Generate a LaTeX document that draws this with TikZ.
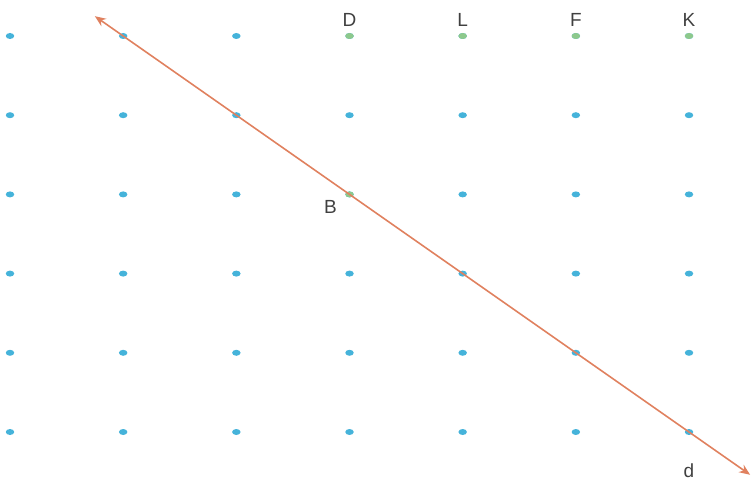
\documentclass[tikz,border=0pt]{standalone}
\usepackage{fontspec}
\setmainfont{Liberation Sans}
\usetikzlibrary{calc, positioning, shapes.geometric, arrows.meta}

\definecolor{dotblue}{HTML}{45B3DA}
\definecolor{dotgreen}{HTML}{8DC98C}
\definecolor{linered}{HTML}{E0815F}

\tikzset{
	dot/.style = {ellipse, fill = dotblue, inner sep = 0pt, minimum width = 8.5pt, minimum height = 6pt},
	gdot/.style = {dot, fill = dotgreen},
	lab/.style = {font = \fontsize{19}{19}\selectfont, text = black!75}
}

\begin{document}
\begin{tikzpicture}[x = 1pt, y = -1pt]
			\useasboundingbox (0,0) rectangle (753,492);
			
			\foreach \i in {1,...,7} {
				\foreach \j in {1,...,6} {
					\node [dot] (p-\i-\j) at ({10 + 113.17*(\i-1)}, {36 + 79.2*(\j-1)}) {};
				}
			}
			
			% green points
			\foreach \i in {4,5,6,7} {
				\node [gdot] at (p-\i-1) {};
			}
			\node [gdot] at (p-4-3) {};
			
			\node [lab, above = 3pt of p-4-1] (D) {D};
			\node [lab, above = 3pt of p-5-1] (L) {L};
			\node [lab, above = 3pt of p-6-1] (F) {F};
			\node [lab, above = 3pt of p-7-1] (K) {K};
			\node [lab, below left = 0pt and 6pt of p-4-3] (B) {B};
			\node [lab, below = 25pt of p-7-6] (d) {d};
			
			\coordinate (s) at ($(p-2-1)!-0.05!(p-7-6)$);
			\coordinate (e) at ($(p-2-1)!1.108!(p-7-6)$);
			\draw [linered, line width = 1.6pt, {Stealth[length=11pt, width=9pt]}-{Stealth[length=11pt, width=9pt]}] (s) -- (e);
		\end{tikzpicture}
\end{document}
